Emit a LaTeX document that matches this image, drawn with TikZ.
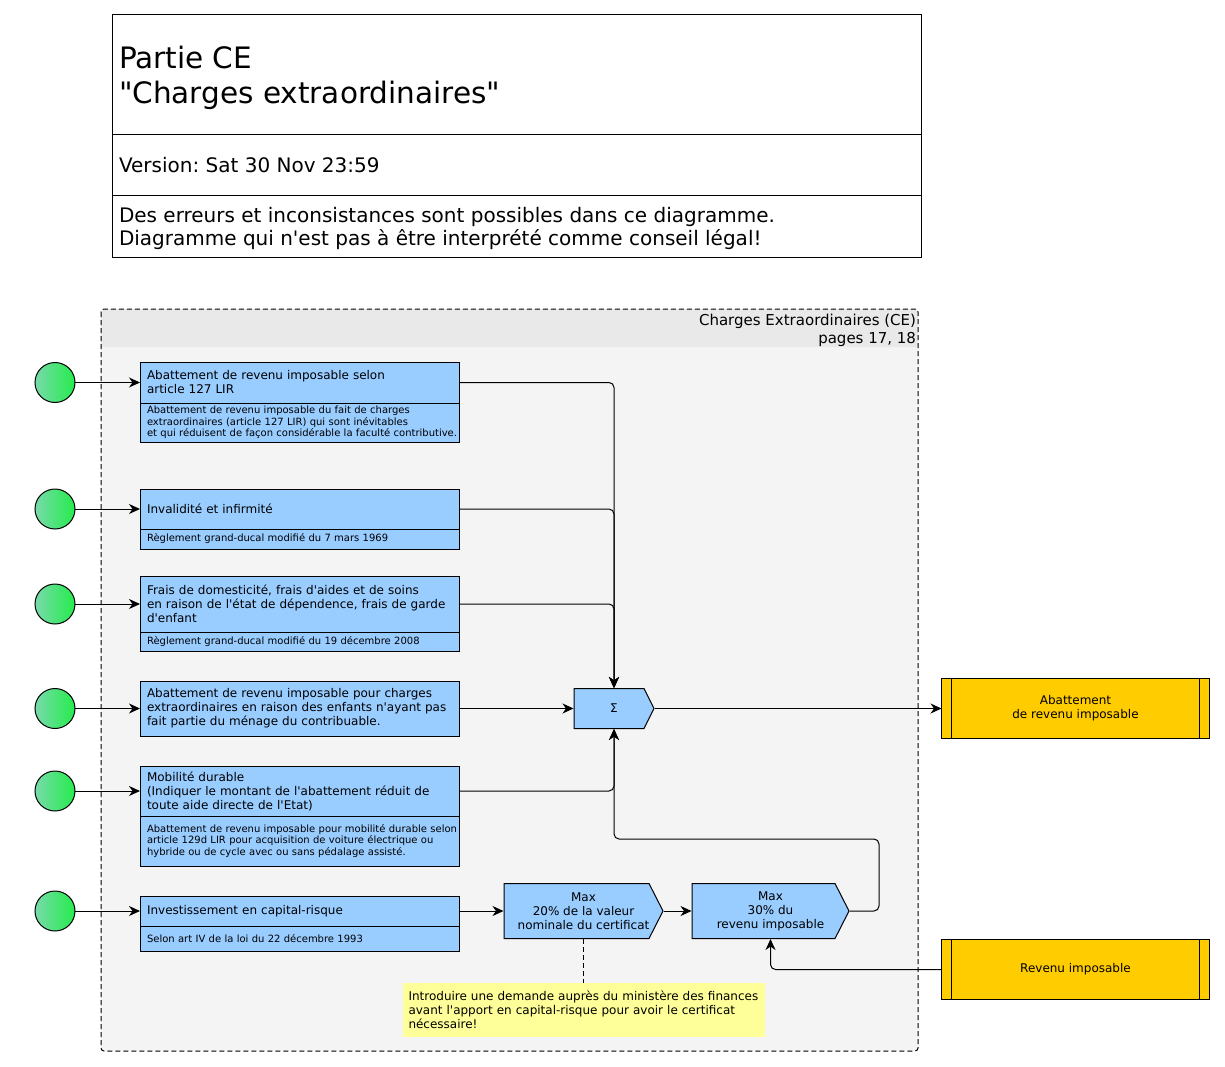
\documentclass[tikz,border=0pt]{standalone}
\usepackage{fontspec}
\setmainfont{DejaVu Sans}[Ligatures=TeXOff]
\usetikzlibrary{arrows.meta,positioning}

\definecolor{actblue}{HTML}{99CCFF}
\definecolor{extyellow}{HTML}{FFCC00}
\definecolor{notefill}{HTML}{FFFF99}
\definecolor{partbody}{HTML}{F4F4F4}
\definecolor{parthead}{HTML}{E9E9E9}
\definecolor{startleft}{RGB}{120,218,170}
\definecolor{startright}{RGB}{36,236,76}

\begin{document}
\frenchspacing
\begin{tikzpicture}[x=1pt,y=-1pt,line width=1pt,
  every node/.style={inner sep=0pt,outer sep=0pt},
  actbox/.style={draw,fill=actblue,text width=305pt,inner xsep=7pt,align=left,anchor=north west,font=\fontsize{12}{14}\selectfont},
  actnote/.style={actbox,font=\fontsize{10}{11.6}\selectfont},
  startnode/.style={circle,draw,minimum size=40pt,left color=startleft,right color=startright},
  calcbox/.style={align=center,font=\fontsize{12}{14}\selectfont,
    path picture={\filldraw[fill=actblue]
      ([shift={(.5pt,-.5pt)}]path picture bounding box.north west) --
      ([shift={(-#1,-.5pt)}]path picture bounding box.north east) --
      ([shift={(-.5pt,0pt)}]path picture bounding box.east) --
      ([shift={(-#1,.5pt)}]path picture bounding box.south east) --
      ([shift={(.5pt,.5pt)}]path picture bounding box.south west) -- cycle;}},
  extbox/.style={draw,fill=extyellow,minimum width=268pt,minimum height=60pt,align=center,font=\fontsize{12}{14}\selectfont},
  notebox/.style={fill=notefill,text width=350pt,inner xsep=6pt,minimum height=54pt,align=left,font=\fontsize{12}{14}\selectfont},
  partline/.style={dash pattern=on 5pt off 3pt},
  flow/.style={-{Stealth[length=11pt,width=10pt,inset=3.5pt]},rounded corners=5pt}]

		\useasboundingbox (0,0) rectangle (1225,1067);

		% title block
		\draw[fill=white] (112,15) rectangle (921,257);
		\draw (112,135) -- (921,135);
		\draw (112,196) -- (921,196);
		\node[anchor=west,align=left,font=\fontsize{29.5}{35}\selectfont] (title) at (119,78) {Partie CE\\"Charges extraordinaires"};
		\node[anchor=base west,font=\fontsize{20}{22}\selectfont] (version) at (119,173) {Version: Sat 30 Nov 23:59};
		\node[anchor=west,align=left,font=\fontsize{20}{23}\selectfont] (warn) at (119,228) {Des erreurs et inconsistances sont possibles dans ce diagramme.\\Diagramme qui n'est pas à être interprété comme conseil légal!};

		% partition
		\fill[partbody,rounded corners=3pt] (101,309) rectangle (918,1051);
		\fill[parthead,rounded corners=3pt] (101,309) rectangle (918,347);
		\fill[parthead] (101,320) rectangle (918,347);
		\draw[partline,rounded corners=3pt] (101,309) rectangle (918,1051);
		\node[anchor=east,align=right,font=\fontsize{15}{18}\selectfont] (part) at (916,330.5) {Charges Extraordinaires (CE)\\pages 17, 18};

		% activities
		\node[actbox,minimum height=41pt] (art) at (140,362) {Abattement de revenu imposable selon\\article 127 LIR};
		\node[actnote,minimum height=39pt] (artd) at (art.south west) {Abattement de revenu imposable du fait de charges\\extraordinaires (article 127 LIR) qui sont inévitables\\\mbox{et qui réduisent de façon considérable la faculté contributive.}};
		\node[actbox,minimum height=40pt] (inv) at (140,489) {Invalidité et infirmité};
		\node[actnote,minimum height=20pt] (invd) at (inv.south west) {Règlement grand-ducal modifié du 7 mars 1969};
		\node[actbox,minimum height=56pt] (dom) at (140,576) {Frais de domesticité, frais d'aides et de soins\\\mbox{en raison de l'état de dépendence, frais de garde}\\d'enfant};
		\node[actnote,minimum height=19pt] (domd) at (dom.south west) {Règlement grand-ducal modifié du 19 décembre 2008};
		\node[actbox,minimum height=55pt] (enf) at (140,681) {Abattement de revenu imposable pour charges\\\mbox{extraordinaires en raison des enfants n'ayant pas}\\fait partie du ménage du contribuable.};
		\node[actbox,minimum height=50pt] (mob) at (140,766) {Mobilité durable\\(Indiquer le montant de l'abattement réduit de\\toute aide directe de l'Etat)};
		\node[actnote,minimum height=50pt] (mobd) at (mob.south west) {\mbox{Abattement de revenu imposable pour mobilité durable selon}\\article 129d LIR pour acquisition de voiture électrique ou\\hybride ou de cycle avec ou sans pédalage assisté.};
		\node[actbox,minimum height=30pt] (cap) at (140,896) {Investissement en capital-risque};
		\node[actnote,minimum height=25pt] (capd) at (cap.south west) {Selon art IV de la loi du 22 décembre 1993};

		% start points
		\foreach \a in {art,inv,dom,enf,mob,cap} {
			\node[startnode,left=65pt of \a] (s\a) {};
			\draw[flow] (s\a) -- (\a);
		}

		% sum and limits
		\node[calcbox=10.5pt,minimum width=81pt,minimum height=41pt,right=114.5pt of enf] (sum) {Σ};
		\node[calcbox=14.5pt,minimum width=160pt,minimum height=56pt,right=44.5pt of cap] (m20) {Max\\20\% de la valeur\\nominale du certificat};
		\node[calcbox=14.5pt,minimum width=158pt,minimum height=56pt,right=28pt of m20] (m30) {Max\\30\% du\\revenu imposable};

		% external data
		\node[extbox,right=287pt of sum] (abat) {Abattement\\de revenu imposable};
		\node[extbox,below=201pt of abat] (rev) {Revenu imposable};
		\foreach \e in {abat,rev} {
			\draw ([xshift=10pt]\e.north west) -- ([xshift=10pt]\e.south west);
			\draw ([xshift=-10pt]\e.north east) -- ([xshift=-10pt]\e.south east);
		}

		\node[notebox,below=44pt of m20] (hint) {\mbox{Introduire une demande auprès du ministère des finances}\\avant l'apport en capital-risque pour avoir le certificat\\nécessaire!};

		% connectors
		\draw[flow] (art) -| (sum);
		\draw[flow] (inv) -| (sum);
		\draw[flow] (dom) -| (sum);
		\draw[flow] (enf) -- (sum);
		\draw[flow] (mob) -| (sum);
		\draw[flow] (sum) -- (abat);
		\draw[flow] (cap) -- (m20);
		\draw[flow] (m20) -- (m30);
		\coordinate (back) at (879,839);
		\draw[flow] (m30) -| (back) -| (sum);
		\draw[flow] (rev) -| (m30);
		\draw[partline] (m20) -- (hint);

	\end{tikzpicture}
\end{document}
